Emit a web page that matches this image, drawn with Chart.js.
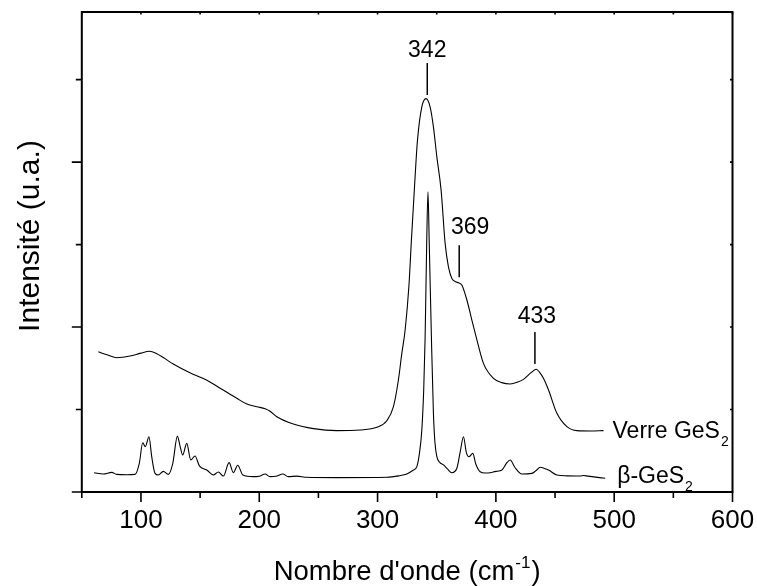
<!DOCTYPE html>
<html>
<head>
<meta charset="utf-8">
<script src="https://cdn.jsdelivr.net/npm/chart.js@4.4.1/dist/chart.umd.min.js"></script>
<style>
  html, body { margin: 0; padding: 0; background: #fff; }
  canvas { display: block; }
</style>
</head>
<body>
<canvas id="ramanChart" width="757" height="586"></canvas>
<script>
// Raman spectra (wavenumber in cm-1, intensity in arbitrary units)
const verreX = [64, 72, 79.5, 90.7, 100, 107.2, 113, 120, 127.3, 141.4, 155.4, 169.5, 181, 189.5, 198, 205,
  209.1, 214.8, 228.8, 245.8, 265.5, 285.2, 299.4, 307.8, 313.4, 317.6, 320.5, 323.3, 326.5, 328.6, 331.7,
  333.7, 337.4, 341, 344.4, 347.2, 350.1, 353.7, 357.1, 359.9, 362.8, 366, 368.4, 371.2, 375.5, 379.7,
  383.3, 389.5, 398, 405, 412.1, 418, 423.3, 430, 434.1, 437, 440.2, 444.5, 451.6, 460, 468.5, 480, 491];
const verreY = [85, 83, 81.4, 82.4, 84.2, 85.3, 84, 81, 77.6, 72.3, 67.9, 61.8, 56.8, 53.3, 51.7, 50.5,
  49, 45.6, 41.2, 38.4, 37.2, 37.6, 39.2, 43.2, 51.7, 67.9, 84, 98.2, 125, 152.7, 191,
  213, 233.5, 238.5, 233.5, 221.4, 203.2, 183, 150.7, 136.5, 129.5, 127.5, 126.8, 125.5, 116.4, 104.2,
  94.1, 78, 68.9, 66.3, 65.5, 66.5, 68.3, 72.5, 74.4, 72.5, 68.9, 61.8, 47.7, 39.6, 37.2, 37, 37.2];

const betaX = [60.3, 68.2, 75.3, 79.5, 88, 95, 98.6, 101.5, 103.7, 106.8, 109.1, 111.9, 114.7, 118.9, 123.1,
  126.9, 130.8, 133, 135.3, 138.7, 142.1, 145.7, 149.4, 155.6, 161.2, 165.4, 169.7, 174.5, 178.1, 181.8,
  186.1, 195, 200, 204.9, 209.1, 214, 219.9, 224.6, 231.7, 240, 265.5, 307.8, 318, 324.7, 330, 333.2,
  335.5, 337.4, 339, 340.2, 341.5, 342.6, 343.7, 345.5, 347.2, 348.5, 350.1, 352.5, 355.7, 359, 362.8,
  367, 370, 372.6, 375, 377.2, 380.5, 383, 386.7, 391, 395.2, 400, 405.1, 409, 412.1, 416, 422, 430.4,
  434, 437.5, 441, 444.5, 451.6, 460, 471.3, 474, 478, 492.4];
const betaY = [11.7, 10.9, 11.9, 10.7, 10.5, 10.7, 17.4, 29.9, 27.5, 33.5, 21.4, 11.3, 10.3, 12.5, 10.7,
  17.4, 33.9, 28, 22.4, 29.5, 19.4, 21.8, 15.8, 13.3, 10.3, 12.1, 9.7, 17.8, 11.7, 16.2,
  10.3, 9.3, 9.6, 10.9, 9.3, 9.5, 10.9, 9.3, 9.6, 8.9, 8.7, 8.9, 9.8, 10.9, 13.2, 15.4,
  24, 37.6, 62, 94, 150, 182, 150, 94, 47.7, 30, 21.4, 18, 16.4, 14, 11.7,
  14.4, 25, 33.5, 24, 21.4, 23.4, 17, 12.3, 11.5, 11.7, 12.5, 13.3, 17.5, 19.4, 15, 10.9, 11.3,
  13, 15, 14.3, 13.3, 10.3, 9.8, 9.7, 10, 9.6, 8.3];

const peakLabels = ['342', '369', '433'];
const seriesNames = ['Verre GeS', 'β-GeS'];

const xMin = 50, xMax = 600, yMin = 0, yMax = 291;

const FONT = "'Liberation Sans', Arial, Helvetica, sans-serif";

function toPoints(xs, ys) {
  return xs.map((x, i) => ({ x: x, y: ys[i] }));
}

function interp(xs, ys, x) {
  for (let i = 1; i < xs.length; i++) {
    if (x <= xs[i]) {
      const t = (x - xs[i - 1]) / (xs[i] - xs[i - 1]);
      return ys[i - 1] + t * (ys[i] - ys[i - 1]);
    }
  }
  return ys[ys.length - 1];
}

// frame, ticks, titles and peak markers
const decorations = {
  id: 'decorations',
  afterDraw(chart) {
    const ctx = chart.ctx;
    const xs = chart.scales.x, ys = chart.scales.y;
    const a = chart.chartArea;
    ctx.save();
    ctx.strokeStyle = '#000';
    ctx.fillStyle = '#000';

    // box
    ctx.lineWidth = 2;
    ctx.strokeRect(a.left, a.top, a.right - a.left, a.bottom - a.top);

    // ticks: outward on bottom/left, tiny inward on top/right
    ctx.lineWidth = 1.6;
    ctx.beginPath();
    xs.ticks.forEach(t => {
      const px = xs.getPixelForValue(t.value);
      const len = t.value % 100 === 0 ? 10 : 6;
      ctx.moveTo(px, a.bottom); ctx.lineTo(px, a.bottom + len);
      ctx.moveTo(px, a.top); ctx.lineTo(px, a.top + 2.5);
    });
    ys.ticks.forEach(t => {
      const py = ys.getPixelForValue(t.value);
      const len = t.value % 100 === 0 ? 10 : 6;
      ctx.moveTo(a.left, py); ctx.lineTo(a.left - len, py);
      ctx.moveTo(a.right, py); ctx.lineTo(a.right - 2.5, py);
    });
    ctx.stroke();

    // axis titles
    ctx.textBaseline = 'alphabetic';
    const t1 = "Nombre d'onde (cm";
    const sup = '-1';
    const t2 = ')';
    ctx.font = '27.5px ' + FONT;
    const w1 = ctx.measureText(t1).width;
    const w3 = ctx.measureText(t2).width;
    ctx.font = '17px ' + FONT;
    const w2 = ctx.measureText(sup).width;
    const total = w1 + w2 + w3 + 2;
    const tx = (a.left + a.right) / 2 - total / 2;
    const ty = 580;
    ctx.textAlign = 'left';
    ctx.font = '27.5px ' + FONT;
    ctx.fillText(t1, tx, ty);
    ctx.font = '17px ' + FONT;
    ctx.fillText(sup, tx + w1 + 1, ty - 12);
    ctx.font = '27.5px ' + FONT;
    ctx.fillText(t2, tx + w1 + w2 + 2, ty);

    ctx.save();
    ctx.translate(38.5, 236);
    ctx.rotate(-Math.PI / 2);
    ctx.textAlign = 'center';
    ctx.font = '30px ' + FONT;
    ctx.fillText('Intensité (u.a.)', 0, 0);
    ctx.restore();

    // peak markers on the glass spectrum
    const labelShift = [0, 11, 2];
    const labelGap = [12, 18, 15];
    ctx.lineWidth = 1.5;
    ctx.font = '23px ' + FONT;
    ctx.textAlign = 'center';
    ctx.textBaseline = 'middle';
    peakLabels.forEach((lab, i) => {
      const wn = parseFloat(lab);
      const px = xs.getPixelForValue(wn);
      const base = ys.getPixelForValue(interp(verreX, verreY, wn)) - 6;
      ctx.beginPath();
      ctx.moveTo(px, base);
      ctx.lineTo(px, base - 32);
      ctx.stroke();
      ctx.fillText(lab, px + labelShift[i], base - 32 - labelGap[i]);
    });

    // series names with subscript 2
    const ends = [[verreX, verreY, 9, 7], [betaX, betaY, 12, 5]];
    ctx.textAlign = 'left';
    ctx.textBaseline = 'alphabetic';
    ends.forEach((e, i) => {
      const lx = e[0][e[0].length - 1], ly = e[1][e[1].length - 1];
      const px = xs.getPixelForValue(lx) + e[2];
      const py = ys.getPixelForValue(ly) + e[3];
      ctx.font = '23px ' + FONT;
      ctx.fillText(seriesNames[i], px, py);
      const w = ctx.measureText(seriesNames[i]).width;
      ctx.font = '14px ' + FONT;
      ctx.fillText('2', px + w + 1, py + 8);
    });

    ctx.restore();
  }
};

const ctx = document.getElementById('ramanChart').getContext('2d');
new Chart(ctx, {
  type: 'scatter',
  data: {
    datasets: [
      {
        label: 'Verre GeS2',
        data: toPoints(verreX, verreY),
        showLine: true,
        borderColor: '#000',
        borderWidth: 1.1,
        pointRadius: 0,
        cubicInterpolationMode: 'monotone'
      },
      {
        label: 'β-GeS2',
        data: toPoints(betaX, betaY),
        showLine: true,
        borderColor: '#000',
        borderWidth: 1.1,
        pointRadius: 0,
        cubicInterpolationMode: 'monotone'
      }
    ]
  },
  options: {
    responsive: false,
    animation: false,
    layout: { padding: { top: 12, right: 24.5, left: 0, bottom: 0 } },
    plugins: {
      legend: { display: false },
      tooltip: { enabled: false }
    },
    scales: {
      x: {
        type: 'linear',
        min: xMin,
        max: xMax,
        grid: { display: false, drawTicks: false },
        border: { display: false },
        ticks: {
          stepSize: 50,
          autoSkip: false,
          maxRotation: 0,
          includeBounds: false,
          padding: 13,
          color: '#000',
          font: { family: FONT, size: 26 },
          callback: v => (v % 100 === 0 ? String(v) : '')
        },
        afterFit: s => { s.height = 94; s.paddingLeft = 0; s.paddingRight = 0; }
      },
      y: {
        type: 'linear',
        min: yMin,
        max: yMax,
        grid: { display: false, drawTicks: false },
        border: { display: false },
        ticks: { stepSize: 50, includeBounds: false, display: false },
        afterFit: s => { s.width = 81.8; }
      }
    }
  },
  plugins: [decorations]
});
</script>
</body>
</html>
